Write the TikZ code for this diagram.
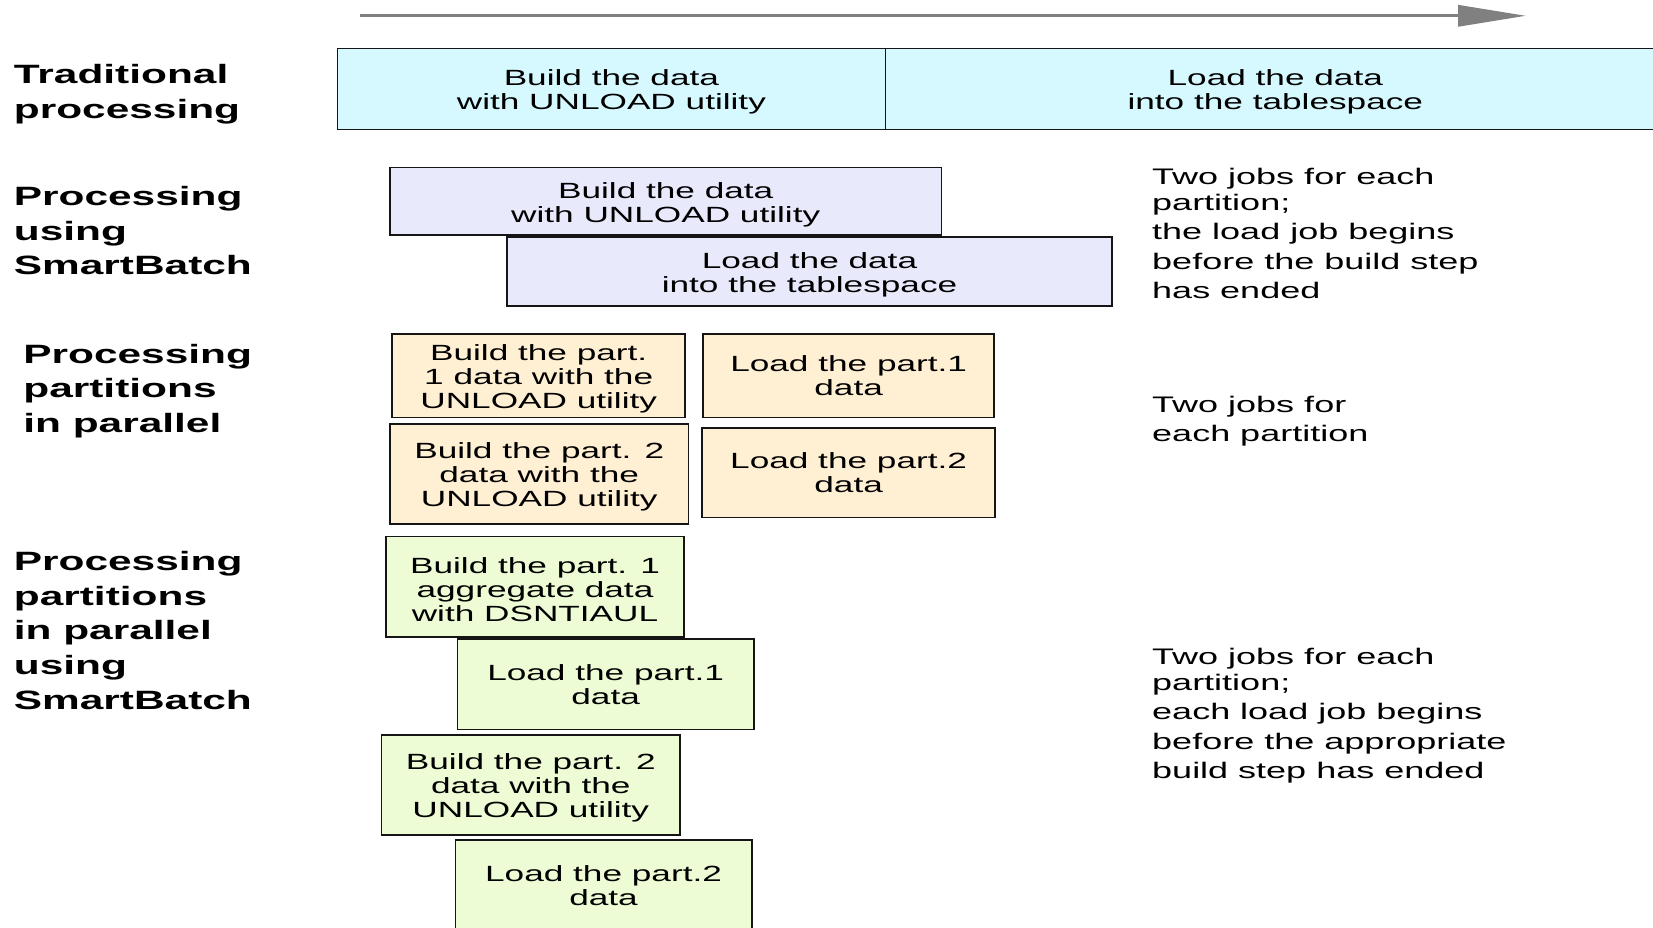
\documentclass[tikz,border=0pt]{standalone}
\usepackage{fontspec}
\setmainfont{Liberation Sans}[FakeStretch=1.6]
\usetikzlibrary{arrows.meta}

\definecolor{tradfill}{HTML}{D6F9FF}
\definecolor{sbfill}{HTML}{E8E9FB}
\definecolor{parfill}{HTML}{FFF0D4}
\definecolor{sbpfill}{HTML}{EEFCD6}
\definecolor{axisgray}{HTML}{808080}
\definecolor{edge}{HTML}{151515}

% a tall invisible strut that lowers the text block a little inside each box
\newcommand{\topgap}{\rule{0pt}{22pt}}
% a deep invisible strut that raises the text block inside a box
\newcommand{\bottomgap}{\rule[-9pt]{0pt}{9pt}}

\begin{document}
\begin{tikzpicture}[x=1pt,y=-1pt,
  job/.style={draw=edge, line width=1.6pt, inner sep=0pt, align=center,
    font=\fontsize{22}{24}\selectfont},
  % multi-line labels are placed by the baseline of their last line
  rowlabel/.style={anchor=base west, inner sep=0pt, align=left,
    font=\fontsize{26.5}{34.8}\selectfont\bfseries},
  note/.style={anchor=base west, inner sep=0pt, align=left,
    font=\fontsize{22.5}{25.3}\selectfont},
  timeline/.style={draw=axisgray, line width=3.3pt,
    -{Triangle[length=68pt, width=21pt, fill=axisgray]}}]

\useasboundingbox (0,0) rectangle (1653,928);

% time axis
\coordinate (t0) at (359.5,15.8);
\coordinate (t1) at (1526,15.8);
\draw[timeline] (t0) -- (t1);

% row labels
\node[rowlabel] (lt) at (13.7,118.5) {Traditional\\processing};
\node[rowlabel] (ls) at (13.7,274.8) {Processing\\using\\SmartBatch};
\node[rowlabel] (lp) at (23.2,432.6) {Processing\\partitions\\in parallel};
\node[rowlabel] (lq) at (13.7,709.4) {Processing\\partitions\\in parallel\\using\\SmartBatch};

% traditional processing
\node[job, fill=tradfill, minimum width=548.2, minimum height=81.2] (tb) at (611.4,89.1)
  {\topgap Build the data\\with UNLOAD utility};
\node[job, fill=tradfill, minimum width=779.5, minimum height=81.2] (tl) at (1275.3,89.1)
  {\topgap Load the data\\into the tablespace};

% SmartBatch
\node[job, fill=sbfill, minimum width=551.4, minimum height=67.5] (sbb) at (665.7,201.35)
  {\topgap Build the data\\with UNLOAD utility};
\node[job, fill=sbfill, minimum width=605, minimum height=68.5] (sbl) at (809.5,271.45)
  {\topgap Load the data\\into the tablespace};

% partitions in parallel
\node[job, fill=parfill, minimum width=293, minimum height=83.3] (pb1) at (538.7,375.85)
  {\topgap Build the part.\\1 data with the\\UNLOAD utility};
\node[job, fill=parfill, minimum width=290.9, minimum height=83.3] (pl1) at (848.65,375.85)
  {Load the part.1\\data};
\node[job, fill=parfill, minimum width=298.4, minimum height=100.2] (pb2) at (539.2,473.9)
  {\topgap Build the part. 2\\data with the\\UNLOAD utility};
\node[job, fill=parfill, minimum width=293.2, minimum height=89.6] (pl2) at (848.6,472.8)
  {Load the part.2\\data};

% partitions in parallel using SmartBatch
\node[job, fill=sbpfill, minimum width=298.4, minimum height=100.1] (qb1) at (535,586.65)
  {\topgap Build the part. 1\\aggregate data\\with DSNTIAUL};
\node[job, fill=sbpfill, minimum width=296.3, minimum height=90.7] (ql1) at (605.65,684.15)
  {Load the part.1\\data};
\node[job, fill=sbpfill, minimum width=298.4, minimum height=100.2] (qb2) at (530.8,784.9)
  {\topgap Build the part. 2\\data with the\\UNLOAD utility};
\node[job, fill=sbpfill, minimum width=296.3, minimum height=99.8] (ql2) at (603.55,890.1)
  {Load the part.2\\data\bottomgap};

% notes
\node[note] (ns) at (1152,298.6)
  {Two jobs for each\\partition;\\[4.2pt]the load job begins\\[4.2pt]before the build step\\[4.2pt]has ended};
\node[note, font=\fontsize{22.5}{28.4}\selectfont] (np) at (1152,441.2)
  {Two jobs for\\each partition};
\node[note] (nq) at (1152,778.5)
  {Two jobs for each\\partition;\\[4.2pt]each load job begins\\[4.2pt]before the appropriate\\[4.2pt]build step has ended};
\end{tikzpicture}
\end{document}
